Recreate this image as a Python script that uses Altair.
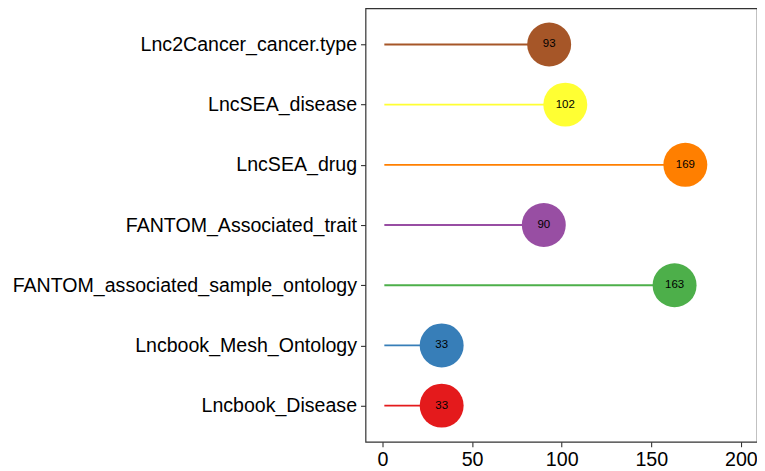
import altair as alt
import pandas as pd

categories = [
    "Lnc2Cancer_cancer.type",
    "LncSEA_disease",
    "LncSEA_drug",
    "FANTOM_Associated_trait",
    "FANTOM_associated_sample_ontology",
    "Lncbook_Mesh_Ontology",
    "Lncbook_Disease",
]
counts = [93, 102, 169, 90, 163, 33, 33]
colors = ["#A65628", "#FFFF33", "#FF7F00", "#984EA3", "#4DAF4A", "#377EB8", "#E41A1C"]
segment_start = [1, 1, 1, 1, 1, 1, 1]
x_ticks = [0, 50, 100, 150, 200]

df = pd.DataFrame({"cat": categories, "n": counts, "start": segment_start, "label": [str(c) for c in counts]})

FONT = "Liberation Sans"
xscale = alt.Scale(domain=[-9.5, 209], nice=False, zero=False)

x_enc = alt.X("n:Q", scale=xscale,
              axis=alt.Axis(values=x_ticks, title=None, grid=False, domain=False,
                            tickColor="#333333", tickSize=5, tickWidth=1.1,
                            labelFontSize=19.7, labelFont=FONT, labelColor="black",
                            labelPadding=3, labelLimit=0))
y_enc = alt.Y("cat:N", sort=categories,
              scale=alt.Scale(type="point", padding=0.6),
              axis=alt.Axis(title=None, grid=False, domain=False,
                            tickColor="#333333", tickSize=5, tickWidth=1.1,
                            labelFontSize=19.6, labelFont=FONT, labelColor="black",
                            labelPadding=4, labelLimit=0))
color_enc = alt.Color("cat:N", scale=alt.Scale(domain=categories, range=colors), legend=None)

base = alt.Chart(df)

seg = base.mark_rule(strokeWidth=1.9).encode(
    x=alt.X("start:Q", scale=xscale),
    x2="n:Q", y=y_enc, color=color_enc)

pts = base.mark_circle(size=1936, opacity=1).encode(x=x_enc, y=y_enc, color=color_enc)

txt = base.mark_text(fontSize=11.5, font=FONT, color="black").encode(
    x="n:Q", y=alt.Y("cat:N", sort=categories), text="label:N")

chart = alt.layer(seg, pts, txt).properties(
    width=392, height=434,
    autosize=alt.AutoSizeParams(type="none"),
    padding={"left": 358, "top": 0, "right": 0, "bottom": 40},
).configure(background="white").configure_view(stroke="#333333", strokeWidth=1.2)

chart.save("out.html", embed_options={"renderer": "svg", "actions": False})
